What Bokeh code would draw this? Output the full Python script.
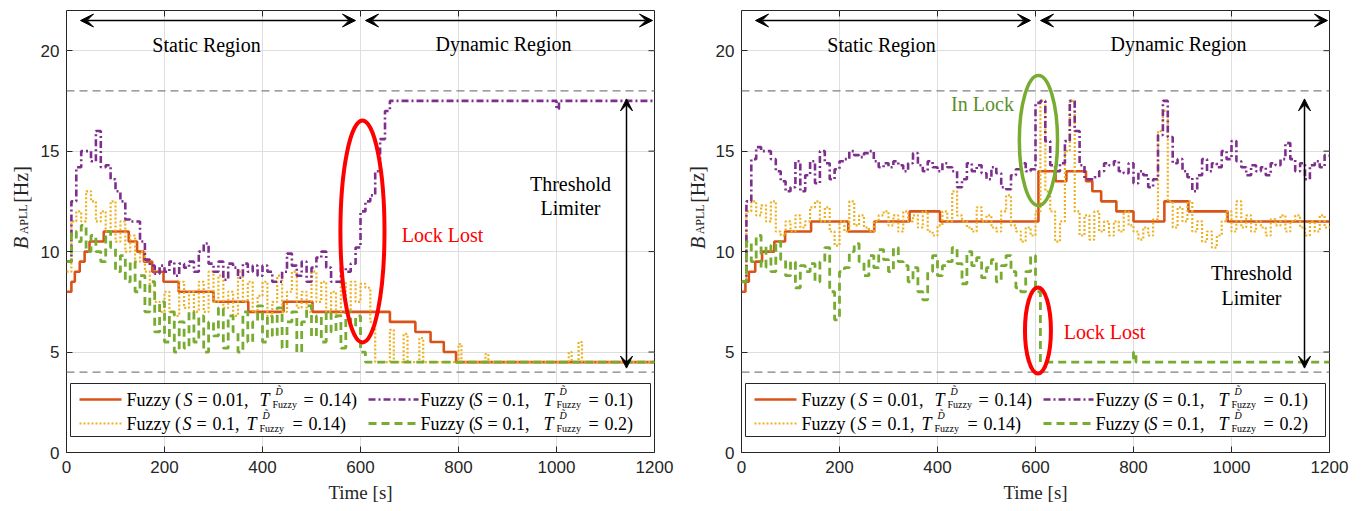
from bokeh.plotting import figure
from bokeh.models import Range1d, FixedTicker, Label, Arrow, VeeHead
from bokeh.layouts import row
from bokeh.embed import file_html
from bokeh.resources import INLINE

# ---------------- DATA ----------------
X_TICKS = [0, 200, 400, 600, 800, 1000, 1200]
Y_TICKS = [0, 5, 10, 15, 20]
T10 = list(range(0, 1201, 10))          # sampling grid (s)

# Left panel
orange_L_t = [0, 10, 17, 27, 37, 47, 76, 127, 144, 158, 175, 198, 229, 300, 371, 443, 502, 660, 712, 743, 770, 795, 1200]
orange_L_v = [8, 8.5, 9, 9.5, 10, 10.5, 11, 10.5, 10, 9.5, 9, 8.5, 8, 7.5, 7, 7.5, 7, 6.5, 6, 5.5, 5, 4.5, 4.5]

purple_L_static = [9.5, 12.5, 14.2, 15.0, 15.0, 14.5, 16.0, 14.2, 14.3, 13.6,
                   13.0, 12.5, 11.6, 11.5, 11.5, 10.5, 9.6, 9.3, 8.9, 9.3,
                   9.0, 9.5, 8.8, 9.4, 9.2, 9.5, 9.0, 10.0, 10.4, 9.4,
                   9.0, 9.5, 8.6, 9.4, 9.2, 8.7, 9.4, 9.0, 9.3, 8.8,
                   9.3, 9.0, 8.5, 8.5, 9.0, 9.9, 9.3, 8.8, 9.5, 8.5,
                   9.2, 9.7, 10.0, 9.2, 8.5, 8.5, 9.2, 9.0, 9.4, 10.2]
purple_L_dyn_t = [600, 610, 620, 630, 640, 650, 660, 995, 1000, 1005, 1200]
purple_L_dyn_v = [12.0, 12.5, 12.8, 14.0, 15.6, 17.0, 17.5, 17.5, 17.1, 17.5, 17.5]

yellow_L_static = [9.0, 11.5, 12.0, 11.5, 13.0, 12.5, 11.5, 12.0, 11.0, 12.5,
                   10.5, 11.5, 10.0, 10.8, 9.5, 10.0, 9.0, 8.0, 7.5, 7.0,
                   8.0, 7.0, 6.8, 8.5, 7.2, 8.0, 7.0, 8.5, 7.0, 9.0,
                   7.5, 8.8, 7.2, 8.0, 6.8, 9.0, 7.5, 8.5, 7.0, 7.8,
                   8.5, 6.8, 7.5, 8.8, 7.0, 8.0, 9.0, 7.2, 8.0, 7.0,
                   9.0, 7.5, 8.5, 7.0, 8.0, 6.8, 8.5, 7.0, 8.5, 7.5]
yellow_L_dyn_t = [600, 610, 620, 630, 655, 660, 668, 683, 688, 696, 715, 720, 728, 795, 800, 806, 850, 855, 861, 1020, 1025, 1031, 1040, 1045, 1052, 1200]
yellow_L_dyn_v = [8.4, 8.2, 6.5, 4.5, 4.5, 6.1, 4.5, 4.5, 5.9, 4.5, 4.5, 5.7, 4.5, 4.5, 5.4, 4.5, 4.5, 4.9, 4.5, 4.5, 5.0, 4.5, 4.5, 5.5, 4.5, 4.5]

green_L_static = [9.5, 11.0, 10.5, 11.3, 10.0, 10.8, 10.0, 9.5, 11.0, 10.2,
                  9.0, 9.8, 8.5, 9.5, 8.0, 8.8, 7.0, 8.5, 6.0, 7.5,
                  5.5, 7.0, 5.0, 6.5, 5.2, 7.0, 5.5, 6.8, 5.0, 6.5,
                  5.8, 7.2, 5.2, 6.8, 6.0, 5.0, 7.0, 5.5, 6.5, 7.3,
                  5.5, 6.8, 5.8, 7.2, 5.2, 6.5, 7.0, 5.0, 6.5, 7.3,
                  5.8, 6.8, 5.5, 7.0, 6.0, 6.8, 5.2, 7.0, 6.3, 6.8, 5.0]
green_L_dyn_t = [610, 1200]
green_L_dyn_v = [4.5, 4.5]

# Right panel
orange_R_t = [0, 8, 15, 28, 42, 67, 89, 142, 218, 271, 343, 405, 606, 641, 663, 703, 716, 734, 765, 800, 863, 912, 992, 1200]
orange_R_v = [8, 8.5, 9, 9.5, 10, 10.5, 11, 11.5, 11, 11.5, 12, 11.5, 14, 13.5, 14, 13.5, 13, 12.5, 12, 11.5, 12.5, 12, 11.5, 11.5]

purple_R = [8.5, 12.5, 14.6, 15.2, 15.0, 15.0, 14.6, 14.0, 13.5, 13.0,
            13.2, 14.5, 13.0, 13.8, 14.5, 13.4, 15.0, 14.4, 13.6, 14.1,
            14.5, 14.6, 15.0, 14.8, 14.7, 14.9, 15.0, 14.5, 14.2, 14.4,
            14.2, 14.5, 14.3, 14.0, 14.4, 14.9, 14.3, 14.0, 14.5, 14.2,
            14.0, 14.4, 14.2, 14.0, 13.2, 13.6, 14.4, 14.0, 14.3, 13.9,
            13.6, 14.2, 13.9, 13.2, 13.1, 13.8, 14.1, 14.4, 14.0, 14.1,
            17.4, 17.5, 15.5, 14.3, 14.0, 14.4, 15.5, 17.5, 16.0, 14.3,
            13.6, 13.6, 13.7, 14.0, 14.4, 14.3, 14.5, 14.0, 13.9, 14.4,
            13.4, 14.0, 13.8, 13.2, 13.6, 15.8, 17.5, 15.7, 14.4, 14.6,
            14.0, 13.7, 13.0, 13.8, 14.6, 14.0, 14.4, 14.2, 15.0, 14.6,
            15.5, 14.5, 14.2, 13.8, 14.3, 14.0, 14.2, 13.8, 14.4, 14.3,
            14.6, 15.4, 14.6, 14.0, 14.4, 13.6, 14.3, 14.5, 14.2, 14.8, 14.6]

yellow_R = [8.5, 12.0, 12.5, 11.8, 12.3, 11.5, 12.5, 11.0, 10.8, 11.5,
            11.0, 11.8, 11.2, 11.5, 12.2, 12.5, 11.5, 12.2, 11.0, 10.3,
            11.5, 11.0, 12.5, 11.3, 11.8, 11.2, 11.0, 11.5, 11.8, 12.0,
            11.3, 11.8, 11.0, 12.0, 11.5, 11.8, 11.2, 12.0, 11.0, 10.8,
            11.3, 12.0, 11.5, 13.0, 11.8, 11.5, 11.2, 11.0, 12.2, 11.5,
            11.8, 11.2, 11.0, 12.0, 12.8, 11.3, 11.0, 10.5, 11.2, 10.8,
            12.0, 17.5, 13.0, 12.0, 10.5, 11.5, 15.0, 17.5, 12.0, 10.8,
            11.8, 10.6, 12.0, 11.0, 11.5, 10.8, 11.5, 11.0, 12.0, 11.3,
            11.0, 10.6, 11.2, 10.8, 11.6, 16.0, 17.0, 12.5, 11.2, 12.2,
            11.5, 12.5, 11.0, 11.5, 10.5, 11.0, 10.2, 10.8, 11.5, 12.0,
            11.0, 12.5, 11.2, 11.8, 11.0, 11.5, 11.2, 10.8, 11.6, 11.3,
            11.8, 11.0, 11.5, 11.8, 11.2, 10.8, 11.5, 11.0, 11.8, 11.2, 11.4]

green_R_static = [8.5, 10.5, 9.5, 10.8, 9.2, 10.3, 9.0, 10.5, 9.6, 8.8,
                  9.5, 8.2, 9.3, 9.0, 9.4, 8.5, 9.5, 10.2, 8.0, 6.6,
                  9.0, 9.2, 10.0, 10.4, 9.5, 8.8, 9.8, 9.2, 10.1, 9.6,
                  9.0, 10.2, 9.5, 9.3, 8.5, 9.2, 8.0, 7.6, 9.0, 9.8,
                  8.8, 9.3, 9.5, 10.2, 9.4, 8.4, 10.0, 9.3, 9.7, 8.7,
                  9.2, 9.6, 8.5, 9.3, 9.8, 9.0, 8.2, 8.0, 9.0, 9.8, 8.0]
green_R_dyn_t = [610, 795, 800, 805, 1200]
green_R_dyn_v = [4.5, 4.5, 5.0, 4.5, 4.5]

THRESH_HI = 18
THRESH_LO = 4

LEG_LABELS = [("0.01", "0.14"), ("0.1", "0.1"), ("0.1", "0.14"), ("0.1", "0.2")]

# ---------------- STYLE ----------------
C_OR = "#D95319"
C_YE = "#EDB120"
C_PU = "#7E2F8E"
C_GR = "#77AC30"
SERIF = "Liberation Serif"
SANS = "Liberation Sans"
FW, FH = 588, 442
XMAX, YMAX = 1200, 22
FIG_H = 508

def dxr(px):  # frame-relative px -> data x
    return px * XMAX / FW

def dyr(py):  # frame-relative px (from top) -> data y
    return YMAX - py * YMAX / FH

STY = {
    "or": dict(line_color=C_OR, line_width=2.6),
    "ye": dict(line_color=C_YE, line_width=2.2, line_dash="2 2"),
    "pu": dict(line_color=C_PU, line_width=2.6, line_dash="7 3 2 3"),
    "gr": dict(line_color=C_GR, line_width=2.8, line_dash="8 5"),
}


def lab(p, x, y, text, size, color="#000000", style="normal", font=SERIF,
        align="center", baseline="middle", angle=0):
    p.add_layout(Label(x=x, y=y, text=text, text_font=font, text_font_size=f"{size}px",
                       text_color=color, text_font_style=style, text_align=align,
                       text_baseline=baseline, angle=angle))


def ylabel_fig(width, xc):
    q = figure(width=width, height=FIG_H, x_range=Range1d(0, width), y_range=Range1d(0, FIG_H),
               output_backend="svg", toolbar_location=None,
               min_border_left=0, min_border_right=0, min_border_top=0, min_border_bottom=0)
    q.axis.visible = False
    q.grid.visible = False
    q.outline_line_color = None
    q.background_fill_color = "white"
    q.border_fill_color = "white"
    lab(q, xc, FIG_H - 267, "B", 20, color="#262626", style="italic", angle=1.5708)
    lab(q, xc + 2.5, FIG_H - 240, "APLL", 12, color="#262626", angle=1.5708)
    lab(q, xc, FIG_H - 200, "[Hz]", 20, color="#262626", angle=1.5708)
    return q


def base_fig(border_left):
    p = figure(width=border_left + FW + 29, height=FIG_H, x_range=Range1d(0, XMAX), y_range=Range1d(0, YMAX),
               output_backend="svg", toolbar_location=None,
               min_border_left=border_left, min_border_right=29, min_border_top=10, min_border_bottom=56)
    p.background_fill_color = "white"
    p.border_fill_color = "white"
    p.outline_line_color = "#262626"
    p.outline_line_width = 1
    p.outline_line_alpha = 1
    for ax, ticks in ((p.xaxis, X_TICKS), (p.yaxis, Y_TICKS)):
        ax.ticker = FixedTicker(ticks=ticks)
        ax.major_label_text_font = SANS
        ax.major_label_text_font_size = "17px"
        ax.major_label_text_color = "#262626"
        ax.axis_line_color = None
        ax.major_tick_in = 6
        ax.major_tick_out = 0
        ax.major_tick_line_color = "#262626"
        ax.minor_tick_line_color = None
    p.xaxis.major_label_standoff = 8
    p.yaxis.major_label_standoff = 7
    p.xaxis.axis_label = "Time [s]"
    p.xaxis.axis_label_text_font = SERIF
    p.xaxis.axis_label_text_font_size = "19px"
    p.xaxis.axis_label_text_font_style = "normal"
    p.xaxis.axis_label_text_color = "#262626"
    p.xaxis.axis_label_standoff = 6
    p.xgrid.ticker = FixedTicker(ticks=X_TICKS)
    p.ygrid.ticker = FixedTicker(ticks=Y_TICKS)
    p.xgrid.grid_line_color = "#dedede"
    p.ygrid.grid_line_color = "#dedede"
    # box ticks on top and right
    tl_y = 6 * YMAX / FH
    tl_x = 6 * XMAX / FW
    p.segment(x0=X_TICKS, y0=[YMAX] * len(X_TICKS), x1=X_TICKS, y1=[YMAX - tl_y] * len(X_TICKS),
              line_color="#262626", line_width=1)
    p.segment(x0=[XMAX] * len(Y_TICKS), y0=Y_TICKS, x1=[XMAX - tl_x] * len(Y_TICKS), y1=Y_TICKS,
              line_color="#262626", line_width=1)
    # thresholds
    for yv in (THRESH_HI, THRESH_LO):
        p.line([0, XMAX], [yv, yv], line_color="#808080", line_width=1.2, line_dash="8 5")
    # region arrows and labels
    for xs, xe in ((14, 289), (299, 586)):
        p.add_layout(Arrow(start=VeeHead(size=13, fill_color="black", line_color="black"),
                           end=VeeHead(size=13, fill_color="black", line_color="black"),
                           x_start=dxr(xs), y_start=dyr(10), x_end=dxr(xe), y_end=dyr(10),
                           line_color="black", line_width=1.5))
    lab(p, dxr(140), dyr(34), "Static Region", 20)
    lab(p, dxr(437), dyr(33), "Dynamic Region", 20)
    return p


def add_legend(p):
    p.quad(left=[dxr(4)], right=[dxr(584)], bottom=[dyr(426)], top=[dyr(373)],
           fill_color="white", line_color="#262626", line_width=1)
    rows = [dyr(389), dyr(413)]
    keys = [("or", 0, 0), ("pu", 1, 0), ("ye", 0, 1), ("gr", 1, 1)]
    line_x = [(13, 55), (302, 352)]
    # x-positions (frame px) of text pieces for each entry
    pos = [
        [60, 117, 131, 146, 193, 206, 209, 237, 253],
        [354, 407, 421, 436, 477, 490, 493, 522, 538],
        [60, 116, 130, 146, 180, 193, 196, 226, 242],
        [354, 407, 421, 436, 477, 490, 493, 522, 538],
    ]
    for (key, col, r), (sv, tv), ps in zip(keys, LEG_LABELS, pos):
        yy = rows[r]
        x1, x2 = line_x[col]
        p.line([dxr(x1), dxr(x2)], [yy, yy], **STY[key])
        pieces = [("Fuzzy (", 18, "normal", 0), ("S", 18, "italic", 0), ("=", 18, "normal", 0),
                  (sv + ",", 18, "normal", 0), ("T", 18, "italic", 0), ("Fuzzy", 10, "normal", 5),
                  ("D\u0303", 10, "italic", -8), ("=", 18, "normal", 0), (tv + ")", 18, "normal", 0)]
        for (txt, sz, st, off), x in zip(pieces, ps):
            lab(p, dxr(x), yy - off * YMAX / FH, txt, sz, style=st, align="left")


def draw_series(p, series):
    for key, t, v in series:
        p.step(t, v, mode="after", **STY[key])


# ---------------- LEFT ----------------
q1 = ylabel_fig(34, 20.5)
p1 = base_fig(32)
draw_series(p1, [
    ("or", orange_L_t, orange_L_v),
    ("ye", T10[:60] + yellow_L_dyn_t, yellow_L_static + yellow_L_dyn_v),
    ("pu", T10[:60] + purple_L_dyn_t, purple_L_static + purple_L_dyn_v),
    ("gr", T10[:61] + green_L_dyn_t, green_L_static + green_L_dyn_v),
])
p1.ellipse(x=[604], y=[11.0], width=[90], height=[11.05], fill_alpha=0,
           line_color="#FF0000", line_width=4)
lab(p1, dxr(376), dyr(224), "Lock Lost", 20, color="#FF0000")
p1.add_layout(Arrow(start=VeeHead(size=12, fill_color="black", line_color="black"),
                    end=VeeHead(size=12, fill_color="black", line_color="black"),
                    x_start=dxr(560), y_start=17.6, x_end=dxr(560), y_end=4.2,
                    line_color="black", line_width=1.5))
lab(p1, dxr(504), dyr(173), "Threshold", 20)
lab(p1, dxr(504), dyr(197), "Limiter", 20)
add_legend(p1)

# ---------------- RIGHT ----------------
q2 = ylabel_fig(26, 14)
p2 = base_fig(32)
draw_series(p2, [
    ("or", orange_R_t, orange_R_v),
    ("ye", T10, yellow_R),
    ("pu", T10, purple_R),
    ("gr", T10[:61] + green_R_dyn_t, green_R_static + green_R_dyn_v),
])
p2.ellipse(x=[606], y=[15.53], width=[78], height=[6.47], fill_alpha=0,
           line_color=C_GR, line_width=3.5)
p2.ellipse(x=[605], y=[6.07], width=[53], height=[4.28], fill_alpha=0,
           line_color="#FF0000", line_width=4)
lab(p2, dxr(241), dyr(93), "In Lock", 20, color="#5A8F29")
lab(p2, dxr(363), dyr(321), "Lock Lost", 20, color="#FF0000")
p2.add_layout(Arrow(start=VeeHead(size=12, fill_color="black", line_color="black"),
                    end=VeeHead(size=12, fill_color="black", line_color="black"),
                    x_start=dxr(563), y_start=17.6, x_end=dxr(563), y_end=4.2,
                    line_color="black", line_width=1.5))
lab(p2, dxr(510), dyr(262), "Threshold", 20)
lab(p2, dxr(510), dyr(287), "Limiter", 20)
add_legend(p2)

layout = row(q1, p1, q2, p2)
open("out.html", "w").write(file_html(layout, INLINE))
